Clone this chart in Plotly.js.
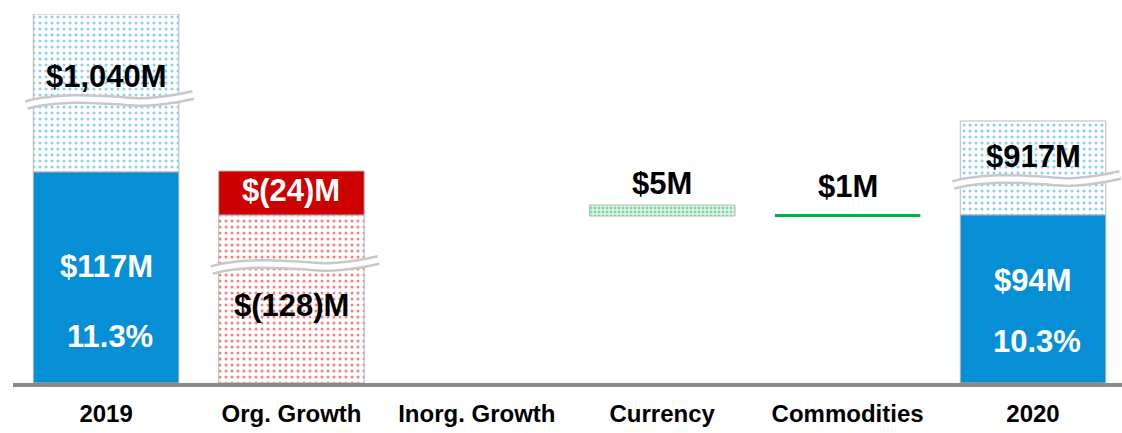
<!DOCTYPE html>
<html>
<head>
<meta charset="utf-8">
<script src="https://cdn.plot.ly/plotly-3.0.1.min.js"></script>
<style>html,body{margin:0;padding:0;background:#fff;}#chart{width:1122px;height:433px;}</style>
</head>
<body>
<div id="chart"></div>
<script>
// Categories of the bridge
const categories = ['2019', 'Org. Growth', 'Inorg. Growth', 'Currency', 'Commodities', '2020'];

// Visual (not-to-scale) bar segments, in chart units
const profitBase   = [0, 168, null, 167, 166, 0];      // solid / change segment base
const profitHeight = [211, 44, null, 11, 3, 168];      // solid / change segment height
const revenueBase   = [211, 0, null, null, null, 168]; // dotted (revenue) segment base
const revenueHeight = [158, 168, null, null, null, 94];
const breakLevel    = [283, 118, null, null, null, 203]; // axis-break squiggle level

// Label texts
const revenueLabels = ['$1,040M', '$(128)M', null, null, null, '$917M'];
const profitLabels  = ['$117M', '$(24)M', null, '$5M', '$1M', '$94M'];
const marginLabels  = ['11.3%', null, null, null, null, '10.3%'];

const xs = categories.map((c, i) => i);
const BW = 0.785;
const blue = '#078fd6', red = '#cc0000', green = '#00b050';
const edge = '#b8b8b8';

const traces = [];

// Dotted revenue segments
const revColors = ['#1a9de6', '#e60000', null, null, null, '#1a9de6'];
[0, 1, 5].forEach(i => {
  traces.push({
    type: 'bar', x: [xs[i]], y: [revenueHeight[i]], base: [revenueBase[i]], width: BW,
    marker: {color: 'white', line: {color: edge, width: 1},
             pattern: {shape: '.', fgcolor: revColors[i], bgcolor: 'white', size: 6, solidity: 0.2, fillmode: 'overlay'}},
    hoverinfo: 'skip', showlegend: false
  });
});

// Solid / change segments
const solidColors = [blue, red, null, null, green, blue];
[0, 1, 4, 5].forEach(i => {
  traces.push({
    type: 'bar', x: [xs[i]], y: [profitHeight[i]], base: [profitBase[i]], width: BW,
    marker: {color: solidColors[i], line: {color: i === 4 ? green : edge, width: i === 4 ? 0 : 1}},
    hoverinfo: 'skip', showlegend: false
  });
});
// Currency (dotted green)
traces.push({
  type: 'bar', x: [xs[3]], y: [profitHeight[3]], base: [profitBase[3]], width: BW,
  marker: {color: '#e3f6ea', line: {color: edge, width: 1},
           pattern: {shape: '.', fgcolor: '#1fb85a', bgcolor: '#e3f6ea', size: 4, solidity: 0.4, fillmode: 'overlay'}},
  hoverinfo: 'skip', showlegend: false
});

// Axis-break squiggles
const wx = [-0.43, -0.36, -0.18, 0.02, 0.2, 0.36, 0.47];
const wy = [-5, -2, 1, 0, -2, 1, 5];
breakLevel.forEach((b, i) => {
  if (b === null) return;
  const x = wx.map(d => xs[i] + d), y = wy.map(d => b + d);
  traces.push({type: 'scatter', mode: 'lines', x: x, y: y, line: {color: '#c8c8c8', width: 10, shape: 'spline'}, hoverinfo: 'skip', showlegend: false});
  traces.push({type: 'scatter', mode: 'lines', x: x, y: y, line: {color: 'white', width: 5, shape: 'spline'}, hoverinfo: 'skip', showlegend: false});
});

// Labels
const annotations = [];
const lf = (color) => ({family: 'Liberation Sans, Arial, sans-serif', size: 31, color: color, weight: 700});
revenueLabels.forEach((t, i) => {
  if (!t) return;
  const y = revenueBase[i] > 0 ? breakLevel[i] + 24 : breakLevel[i] - 40;
  annotations.push({x: xs[i], y: y, text: t, showarrow: false, font: lf('black'), yanchor: 'middle'});
});
profitLabels.forEach((t, i) => {
  if (!t) return;
  const top = profitBase[i] + profitHeight[i];
  let y, color = 'white';
  if (i === 0 || i === 5) { y = top * 0.326 + 48; }
  else if (i === 1) { y = profitBase[i] + profitHeight[i] / 2 + 3; }
  else { y = top + (i === 3 ? 22 : 28); color = 'black'; }
  annotations.push({x: xs[i], y: y, text: t, showarrow: false, font: lf(color), yanchor: 'middle'});
});
marginLabels.forEach((t, i) => {
  if (!t) return;
  const top = profitBase[i] + profitHeight[i];
  annotations.push({x: xs[i] + 0.02, y: top * 0.116 + 22.5, text: t, showarrow: false, font: lf('white'), yanchor: 'middle'});
});

const layout = {
  width: 1122, height: 433,
  margin: {l: 13, r: 0, t: 14, b: 50},
  paper_bgcolor: 'white', plot_bgcolor: 'white',
  barmode: 'overlay',
  xaxis: {
    range: [-0.502, 5.48], tickvals: xs, ticktext: categories,
    tickfont: {family: 'Liberation Sans, Arial, sans-serif', size: 24, color: 'black', weight: 700},
    ticklabelstandoff: 6,
    showline: true, linecolor: '#8a8a8a', linewidth: 4, ticks: '', showgrid: false, zeroline: false,
    fixedrange: true
  },
  yaxis: {range: [0, 369], visible: false, showgrid: false, zeroline: false, fixedrange: true},
  annotations: annotations
};

Plotly.newPlot('chart', traces, layout, {displayModeBar: false, staticPlot: true});
</script>
</body>
</html>
